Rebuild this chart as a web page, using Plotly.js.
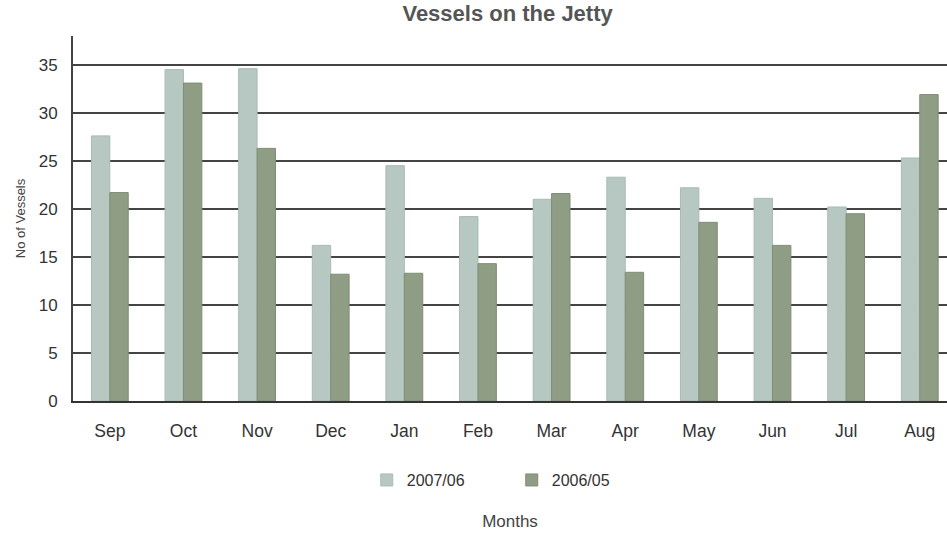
<!DOCTYPE html>
<html>
<head>
<meta charset="utf-8">
<script src="https://cdn.plot.ly/plotly-3.0.1.min.js"></script>
<style>
html,body{margin:0;padding:0;background:#fff;overflow:hidden;}
#chart{width:947px;height:534px;}
</style>
</head>
<body>
<div id="chart"></div>
<script>
const months = ["Sep","Oct","Nov","Dec","Jan","Feb","Mar","Apr","May","Jun","Jul","Aug"];
const series1Name = "2007/06";
const series1 = [27.6, 34.5, 34.6, 16.2, 24.5, 19.2, 21.0, 23.3, 22.2, 21.1, 20.2, 25.3];
const series2Name = "2006/05";
const series2 = [21.7, 33.1, 26.3, 13.2, 13.3, 14.3, 21.6, 13.4, 18.6, 16.2, 19.5, 31.9];
const yTicks = [0, 5, 10, 15, 20, 25, 30, 35];

const font = "Liberation Sans, Arial, sans-serif";

const traces = [
  {type:"bar", name: series1Name, x: months, y: series1,
   marker:{color:"#b6c8c1", line:{color:"#a9bbb3", width:1}}},
  {type:"bar", name: series2Name, x: months, y: series2,
   marker:{color:"#8e9d84", line:{color:"#7f8e76", width:1}}}
];

const layout = {
  width: 947, height: 534,
  margin: {l: 73, r: 0, t: 36, b: 133},
  paper_bgcolor: "#ffffff", plot_bgcolor: "#ffffff",
  font: {family: font, color: "#333", size: 16},
  title: {text: "<b>Vessels on the Jetty</b>", x: 0.536, xanchor: "center", y: 0.99, yanchor: "top",
          font: {family: font, size: 22, color: "#555"}},
  barmode: "group",
  bargap: 0.5,
  bargroupgap: 0,
  xaxis: {
    type: "category", range: [-0.5, 11.37],
    showgrid: false, showline: true, linecolor: "#333", linewidth: 2,
    ticks: "", ticklabelstandoff: 13,
    tickfont: {family: font, size: 17.5, color: "#333"},
    title: {text: "Months", standoff: 75, font: {family: font, size: 17, color: "#444"}},
    zeroline: false
  },
  yaxis: {
    range: [0, 38], tickvals: yTicks, ticktext: yTicks.map(String),
    showgrid: true, gridcolor: "#444", gridwidth: 1.5,
    showline: true, linecolor: "#444", linewidth: 2,
    ticks: "", ticklabelstandoff: 10,
    tickfont: {family: font, size: 17, color: "#333"},
    title: {text: "No of Vessels", standoff: 10, font: {family: font, size: 13, color: "#444"}},
    zeroline: false
  },
  showlegend: true,
  legend: {orientation: "h", x: 0.502, xanchor: "center", y: -0.17, yanchor: "top",
           font: {family: font, size: 16, color: "#333"},
           entrywidth: 100, itemwidth: 30, traceorder: "normal"}
};

Plotly.newPlot("chart", traces, layout, {displayModeBar: false, staticPlot: true});
</script>
</body>
</html>
